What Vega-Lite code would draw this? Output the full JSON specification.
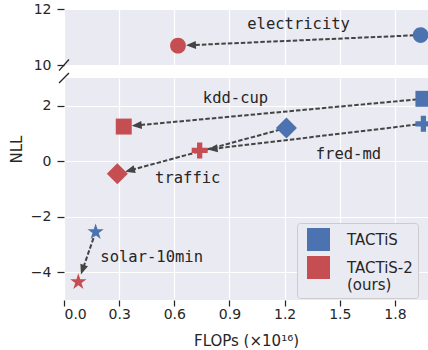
{
  "$schema": "https://vega.github.io/schema/vega-lite/v6.json",
  "padding": {"left": 8, "top": 2, "right": 0, "bottom": 0},
  "spacing": 13,
  "bounds": "flush",
  "background": "white",
  "datasets": {
    "pairs": [
      {"dataset": "electricity", "panel": "top", "x1": 1.94, "y1": 11.07, "x2": 0.62, "y2": 10.69, "lx": 1.276, "ly": 11.47},
      {"dataset": "kdd-cup", "panel": "bottom", "x1": 1.955, "y1": 2.25, "x2": 0.325, "y2": 1.25, "lx": 0.933, "ly": 2.29},
      {"dataset": "fred-md", "panel": "bottom", "x1": 1.955, "y1": 1.35, "x2": 0.738, "y2": 0.39, "lx": 1.547, "ly": 0.27},
      {"dataset": "traffic", "panel": "bottom", "x1": 1.21, "y1": 1.2, "x2": 0.29, "y2": -0.45, "lx": 0.673, "ly": -0.59},
      {"dataset": "solar-10min", "panel": "bottom", "x1": 0.172, "y1": -2.55, "x2": 0.078, "y2": -4.35, "lx": 0.477, "ly": -3.45}
    ],
    "breaks": [
      {"panel": "top", "bx1": -0.027, "by1": 9.8, "bx2": 0.027, "by2": 10.196},
      {"panel": "bottom", "bx1": -0.027, "by1": 2.82, "bx2": 0.027, "by2": 3.18}
    ]
  },
  "config": {
    "view": {"fill": "#EAEAF2", "stroke": null},
    "font": "DejaVu Sans",
    "axis": {
      "domain": false, "grid": true, "gridColor": "white", "gridWidth": 1.2,
      "tickColor": "#262626", "tickWidth": 1.25,
      "labelFont": "DejaVu Sans", "labelFontSize": 14, "labelColor": "#262626",
      "titleFont": "DejaVu Sans", "titleFontSize": 15, "titleColor": "#262626", "titleFontWeight": "normal"
    },
    "axisY": {"tickSize": 7, "labelPadding": 6},
    "axisX": {"tickSize": 6, "labelPadding": 1}
  },
  "resolve": {"scale": {"color": "independent"}, "legend": {"color": "independent"}},
  "vconcat": [
    {
      "width": 364,
      "height": 56,
      "layer": [
        {
          "data": {"name": "pairs"},
          "transform": [
            {"filter": "datum.panel == 'top'"},
            {"calculate": "(datum.x2 - datum.x1) * 183.8", "as": "dxp"},
            {"calculate": "-(datum.y2 - datum.y1) * 28", "as": "dyp"},
            {"calculate": "sqrt(datum.dxp * datum.dxp + datum.dyp * datum.dyp)", "as": "len"},
            {"calculate": "datum.dxp / datum.len", "as": "ux"},
            {"calculate": "datum.dyp / datum.len", "as": "uy"},
            {"calculate": "datum.x2 - 15 * datum.ux / 183.8", "as": "ex"},
            {"calculate": "datum.y2 + 15 * datum.uy / 28", "as": "ey"}
          ],
          "mark": {"type": "rule", "color": "#444444", "strokeWidth": 2, "strokeDash": [4.5, 2]},
          "encoding": {
            "x": {"field": "x1", "type": "quantitative", "scale": {"domain": [0, 1.98], "nice": false, "zero": false},
                  "axis": {"values": [0, 0.3, 0.6, 0.9, 1.2, 1.5, 1.8], "labels": false, "ticks": false, "title": null}},
            "y": {"field": "y1", "type": "quantitative", "scale": {"domain": [10, 12], "nice": false, "zero": false},
                  "axis": {"values": [10, 12], "title": null}},
            "x2": {"field": "ex"},
            "y2": {"field": "ey"}
          }
        },
        {
          "data": {"name": "pairs"},
          "transform": [
            {"filter": "datum.panel == 'top'"},
            {"calculate": "(datum.x2 - datum.x1) * 183.8", "as": "dxp"},
            {"calculate": "-(datum.y2 - datum.y1) * 28", "as": "dyp"},
            {"calculate": "sqrt(datum.dxp * datum.dxp + datum.dyp * datum.dyp)", "as": "len"},
            {"calculate": "datum.dxp / datum.len", "as": "ux"},
            {"calculate": "datum.dyp / datum.len", "as": "uy"},
            {"calculate": "datum.x2 - 13 * datum.ux / 183.8", "as": "hx"},
            {"calculate": "datum.y2 + 13 * datum.uy / 28", "as": "hy"},
            {"calculate": "atan2(datum.ux, -datum.uy) * 180 / PI", "as": "ang"}
          ],
          "mark": {"type": "point", "filled": true, "opacity": 1, "color": "#444444", "shape": "M0,-1L0.8,1L-0.8,1Z", "size": 100},
          "encoding": {
            "x": {"field": "hx", "type": "quantitative"},
            "y": {"field": "hy", "type": "quantitative"},
            "angle": {"field": "ang", "type": "quantitative", "scale": null}
          }
        },
        {
          "data": {"name": "pairs"},
          "transform": [{"filter": "datum.panel == 'top'"}],
          "mark": {"type": "point", "filled": true, "opacity": 1, "clip": true, "color": "#4C72B0", "size": 441},
          "encoding": {
            "x": {"field": "x1", "type": "quantitative"},
            "y": {"field": "y1", "type": "quantitative"},
            "shape": {"field": "dataset", "type": "nominal", "legend": null,
                      "scale": {"domain": ["electricity", "kdd-cup", "fred-md", "traffic", "solar-10min"],
                                "range": [
                                  "M-0.75,0A0.75,0.75,0,1,0,0.75,0A0.75,0.75,0,1,0,-0.75,0Z",
                                  "M-0.76,-0.76H0.76V0.76H-0.76Z",
                                  "M-0.25,-0.76H0.25V-0.25H0.76V0.25H0.25V0.76H-0.25V0.25H-0.76V-0.25H-0.25Z",
                                  "M0,-1L1,0L0,1L-1,0Z",
                                  "M0,-0.82L0.1841,-0.2534L0.7799,-0.2534L0.2979,0.0968L0.482,0.6634L0,0.3132L-0.482,0.6634L-0.2979,0.0968L-0.7799,-0.2534L-0.1841,-0.2534Z"
                                ]}}
          }
        },
        {
          "data": {"name": "pairs"},
          "transform": [{"filter": "datum.panel == 'top'"}],
          "mark": {"type": "point", "filled": true, "opacity": 1, "clip": true, "color": "#C44E52", "size": 441},
          "encoding": {
            "x": {"field": "x2", "type": "quantitative"},
            "y": {"field": "y2", "type": "quantitative"},
            "shape": {"field": "dataset", "type": "nominal", "legend": null}
          }
        },
        {
          "data": {"name": "pairs"},
          "transform": [{"filter": "datum.panel == 'top'"}],
          "mark": {"type": "text", "font": "DejaVu Sans Mono", "fontSize": 15.5, "color": "#262626", "align": "center", "baseline": "middle"},
          "encoding": {
            "x": {"field": "lx", "type": "quantitative"},
            "y": {"field": "ly", "type": "quantitative"},
            "text": {"field": "dataset"}
          }
        },
        {
          "data": {"name": "breaks"},
          "transform": [{"filter": "datum.panel == 'top'"}],
          "mark": {"type": "rule", "color": "#262626", "strokeWidth": 1.3, "clip": false},
          "encoding": {
            "x": {"field": "bx1", "type": "quantitative"},
            "y": {"field": "by1", "type": "quantitative"},
            "x2": {"field": "bx2"},
            "y2": {"field": "by2"}
          }
        }
      ]
    },
    {
      "width": 364,
      "height": 222,
      "layer": [
        {
          "data": {"name": "pairs"},
          "transform": [
            {"filter": "datum.panel == 'bottom'"},
            {"calculate": "(datum.x2 - datum.x1) * 183.8", "as": "dxp"},
            {"calculate": "-(datum.y2 - datum.y1) * 28", "as": "dyp"},
            {"calculate": "sqrt(datum.dxp * datum.dxp + datum.dyp * datum.dyp)", "as": "len"},
            {"calculate": "datum.dxp / datum.len", "as": "ux"},
            {"calculate": "datum.dyp / datum.len", "as": "uy"},
            {"calculate": "datum.x2 - 15 * datum.ux / 183.8", "as": "ex"},
            {"calculate": "datum.y2 + 15 * datum.uy / 28", "as": "ey"}
          ],
          "mark": {"type": "rule", "color": "#444444", "strokeWidth": 2, "strokeDash": [4.5, 2]},
          "encoding": {
            "x": {"field": "x1", "type": "quantitative", "scale": {"domain": [0, 1.98], "nice": false, "zero": false},
                  "axis": {"values": [0, 0.3, 0.6, 0.9, 1.2, 1.5, 1.8], "format": ".1f", "title": "FLOPs (×10¹⁶)", "titlePadding": 12}},
            "y": {"field": "y1", "type": "quantitative", "scale": {"domain": [-5, 3], "nice": false, "zero": false},
                  "axis": {"values": [-4, -2, 0, 2], "title": "NLL", "titleAngle": -90, "titleX": -48, "titleY": 71, "titleAlign": "center", "titleBaseline": "middle"}},
            "x2": {"field": "ex"},
            "y2": {"field": "ey"}
          }
        },
        {
          "data": {"name": "pairs"},
          "transform": [
            {"filter": "datum.panel == 'bottom'"},
            {"calculate": "(datum.x2 - datum.x1) * 183.8", "as": "dxp"},
            {"calculate": "-(datum.y2 - datum.y1) * 28", "as": "dyp"},
            {"calculate": "sqrt(datum.dxp * datum.dxp + datum.dyp * datum.dyp)", "as": "len"},
            {"calculate": "datum.dxp / datum.len", "as": "ux"},
            {"calculate": "datum.dyp / datum.len", "as": "uy"},
            {"calculate": "datum.x2 - 13 * datum.ux / 183.8", "as": "hx"},
            {"calculate": "datum.y2 + 13 * datum.uy / 28", "as": "hy"},
            {"calculate": "atan2(datum.ux, -datum.uy) * 180 / PI", "as": "ang"}
          ],
          "mark": {"type": "point", "filled": true, "opacity": 1, "color": "#444444", "shape": "M0,-1L0.8,1L-0.8,1Z", "size": 100},
          "encoding": {
            "x": {"field": "hx", "type": "quantitative"},
            "y": {"field": "hy", "type": "quantitative"},
            "angle": {"field": "ang", "type": "quantitative", "scale": null}
          }
        },
        {
          "data": {"name": "pairs"},
          "transform": [{"filter": "datum.panel == 'bottom'"}],
          "mark": {"type": "point", "filled": true, "opacity": 1, "clip": true, "size": 441},
          "encoding": {
            "x": {"field": "x1", "type": "quantitative"},
            "y": {"field": "y1", "type": "quantitative"},
            "color": {"datum": "TACTiS", "type": "nominal",
                      "scale": {"domain": ["TACTiS", "TACTiS-2 (ours)"], "range": ["#4C72B0", "#C44E52"]},
                      "legend": {"orient": "none", "legendX": 233, "legendY": 145, "title": null,
                                 "symbolType": "square", "symbolSize": 529, "symbolStrokeWidth": 0, "symbolOpacity": 1,
                                 "labelFont": "DejaVu Sans", "labelFontSize": 15, "labelColor": "#262626",
                                 "labelOffset": 17, "rowPadding": 5, "padding": 5, "symbolOffset": 5,
                                 "fillColor": "#EAEAF2", "strokeColor": "#CCCCCC", "cornerRadius": 3,
                                 "labelExpr": "datum.label == 'TACTiS-2 (ours)' ? ['TACTiS-2', '(ours)'] : datum.label"}},
            "shape": {"field": "dataset", "type": "nominal", "legend": null}
          }
        },
        {
          "data": {"name": "pairs"},
          "transform": [{"filter": "datum.panel == 'bottom'"}],
          "mark": {"type": "point", "filled": true, "opacity": 1, "clip": true, "size": 441},
          "encoding": {
            "x": {"field": "x2", "type": "quantitative"},
            "y": {"field": "y2", "type": "quantitative"},
            "color": {"datum": "TACTiS-2 (ours)", "type": "nominal"},
            "shape": {"field": "dataset", "type": "nominal", "legend": null}
          }
        },
        {
          "data": {"name": "pairs"},
          "transform": [{"filter": "datum.panel == 'bottom'"}],
          "mark": {"type": "text", "font": "DejaVu Sans Mono", "fontSize": 15.5, "color": "#262626", "align": "center", "baseline": "middle"},
          "encoding": {
            "x": {"field": "lx", "type": "quantitative"},
            "y": {"field": "ly", "type": "quantitative"},
            "text": {"field": "dataset"}
          }
        },
        {
          "data": {"name": "breaks"},
          "transform": [{"filter": "datum.panel == 'bottom'"}],
          "mark": {"type": "rule", "color": "#262626", "strokeWidth": 1.3, "clip": false},
          "encoding": {
            "x": {"field": "bx1", "type": "quantitative"},
            "y": {"field": "by1", "type": "quantitative"},
            "x2": {"field": "bx2"},
            "y2": {"field": "by2"}
          }
        }
      ]
    }
  ]
}
